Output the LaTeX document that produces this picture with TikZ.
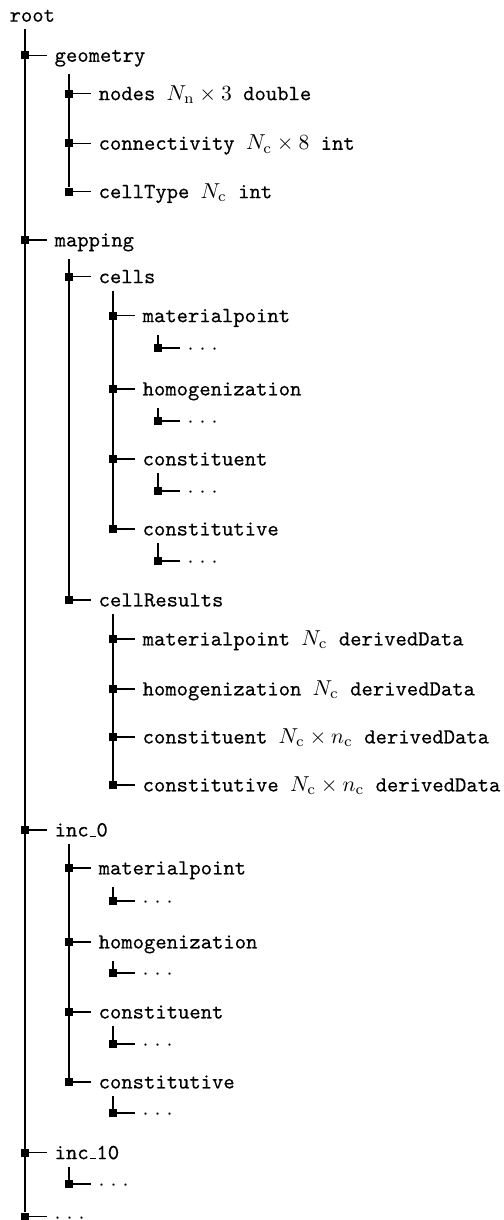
\documentclass[tikz,border=0pt]{standalone}
\usepackage{fontspec}
\setmonofont{lmmono10-regular.otf}[FakeBold=0.3]
\newcommand\ttus{{\kern.06em\vbox{\hrule width.3em}}}

\begin{document}
\begin{tikzpicture}[x=0.463pt,y=-0.463pt,
    dot/.style={fill,inner sep=0pt,minimum size=3.6pt},
    entry/.style={anchor=base west,xshift=10.2pt,yshift=-3pt,font=\ttfamily},
    tree/.style={line width=0.6pt}]
    \useasboundingbox (0,0) rectangle (503,1220);
    \node[anchor=base west,font=\ttfamily] (root) at (2,21.7) {root};
    % first level
    \node[dot] (d-geo) at (25,55.3) {};
    \node[entry] (geo) at (d-geo) {geometry};
    \node[dot] (d-map) at (25,240) {};
    \node[entry] (map) at (d-map) {mapping};
    \node[dot] (d-inc0) at (25,830) {};
    \node[entry] (inc0) at (d-inc0) {inc\ttus0};
    \node[dot] (d-inc10) at (25,1152.7) {};
    \node[entry] (inc10) at (d-inc10) {inc\ttus10};
    \node[dot] (d-more) at (25,1216.7) {};
    \node[entry] (more) at (d-more) {${\cdot}\;{\cdot}\;{\cdot}$};
    % geometry
    \node[dot] (d-nod) at (69,93.7) {};
    \node[entry] (nod) at (d-nod) {nodes $N_\mathrm{n}\times 3$ double};
    \node[dot] (d-con) at (69,143.3) {};
    \node[entry] (con) at (d-con) {connectivity $N_\mathrm{c}\times 8$ int};
    \node[dot] (d-typ) at (69,191.7) {};
    \node[entry] (typ) at (d-typ) {cellType $N_\mathrm{c}$ int};
    % mapping
    \node[dot] (d-cel) at (69,276.7) {};
    \node[entry] (cel) at (d-cel) {cells};
    \node[dot] (d-res) at (69,600) {};
    \node[entry] (res) at (d-res) {cellResults};
    \node[dot] (d-cmp) at (113,315.7) {};
    \node[entry] (cmp) at (d-cmp) {materialpoint};
    \node[dot] (d-cho) at (113,389) {};
    \node[entry] (cho) at (d-cho) {homogenization};
    \node[dot] (d-cci) at (113,459) {};
    \node[entry] (cci) at (d-cci) {constituent};
    \node[dot] (d-cco) at (113,529) {};
    \node[entry] (cco) at (d-cco) {constitutive};
    \node[dot] (d-cmpx) at (158,348) {};
    \node[entry] (cmpx) at (d-cmpx) {${\cdot}\;{\cdot}\;{\cdot}$};
    \node[dot] (d-chox) at (158,421) {};
    \node[entry] (chox) at (d-chox) {${\cdot}\;{\cdot}\;{\cdot}$};
    \node[dot] (d-ccix) at (158,491) {};
    \node[entry] (ccix) at (d-ccix) {${\cdot}\;{\cdot}\;{\cdot}$};
    \node[dot] (d-ccox) at (158,561) {};
    \node[entry] (ccox) at (d-ccox) {${\cdot}\;{\cdot}\;{\cdot}$};
    \node[dot] (d-rmp) at (113,639) {};
    \node[entry] (rmp) at (d-rmp) {materialpoint $N_\mathrm{c}$ derivedData};
    \node[dot] (d-rho) at (113,689) {};
    \node[entry] (rho) at (d-rho) {homogenization $N_\mathrm{c}$ derivedData};
    \node[dot] (d-rci) at (113,737) {};
    \node[entry] (rci) at (d-rci) {constituent $N_\mathrm{c}\times n_\mathrm{c}$ derivedData};
    \node[dot] (d-rco) at (113,785) {};
    \node[entry] (rco) at (d-rco) {constitutive $N_\mathrm{c}\times n_\mathrm{c}$ derivedData};
    % inc_0
    \node[dot] (d-imp) at (69,868) {};
    \node[entry] (imp) at (d-imp) {materialpoint};
    \node[dot] (d-iho) at (69,942) {};
    \node[entry] (iho) at (d-iho) {homogenization};
    \node[dot] (d-ici) at (69,1012) {};
    \node[entry] (ici) at (d-ici) {constituent};
    \node[dot] (d-ico) at (69,1082) {};
    \node[entry] (ico) at (d-ico) {constitutive};
    \node[dot] (d-impx) at (113,901) {};
    \node[entry] (impx) at (d-impx) {${\cdot}\;{\cdot}\;{\cdot}$};
    \node[dot] (d-ihox) at (113,973) {};
    \node[entry] (ihox) at (d-ihox) {${\cdot}\;{\cdot}\;{\cdot}$};
    \node[dot] (d-icix) at (113,1044) {};
    \node[entry] (icix) at (d-icix) {${\cdot}\;{\cdot}\;{\cdot}$};
    \node[dot] (d-icox) at (113,1113) {};
    \node[entry] (icox) at (d-icox) {${\cdot}\;{\cdot}\;{\cdot}$};
    % inc_10
    \node[dot] (d-inc10x) at (69,1184) {};
    \node[entry] (inc10x) at (d-inc10x) {${\cdot}\;{\cdot}\;{\cdot}$};
    % vertical lines
    \draw[tree] (d-geo |- root.south) -- (d-more);
    \draw[tree] (d-nod |- geo.south) -- (d-typ);
    \draw[tree] (d-cel |- map.south) -- (d-res);
    \draw[tree] (d-cmp |- cel.south) -- (d-cco);
    \draw[tree] (d-rmp |- res.south) -- (d-rco);
    \draw[tree] (d-imp |- inc0.south) -- (d-ico);
    \draw[tree] (d-inc10x |- inc10.south) -- (d-inc10x);
    \foreach \p/\c in {cmp/cmpx,cho/chox,cci/ccix,cco/ccox,imp/impx,iho/ihox,ici/icix,ico/icox}
        \draw[tree] (d-\c |- \p.south) -- (d-\c);
    % horizontal lines
    \foreach \n in {geo,map,inc0,inc10,more,nod,con,typ,cel,res,cmp,cho,cci,cco,
        cmpx,chox,ccix,ccox,rmp,rho,rci,rco,imp,iho,ici,ico,impx,ihox,icix,icox,inc10x}
        \draw[tree] (d-\n) -- (d-\n -| \n.west);
\end{tikzpicture}
\end{document}
